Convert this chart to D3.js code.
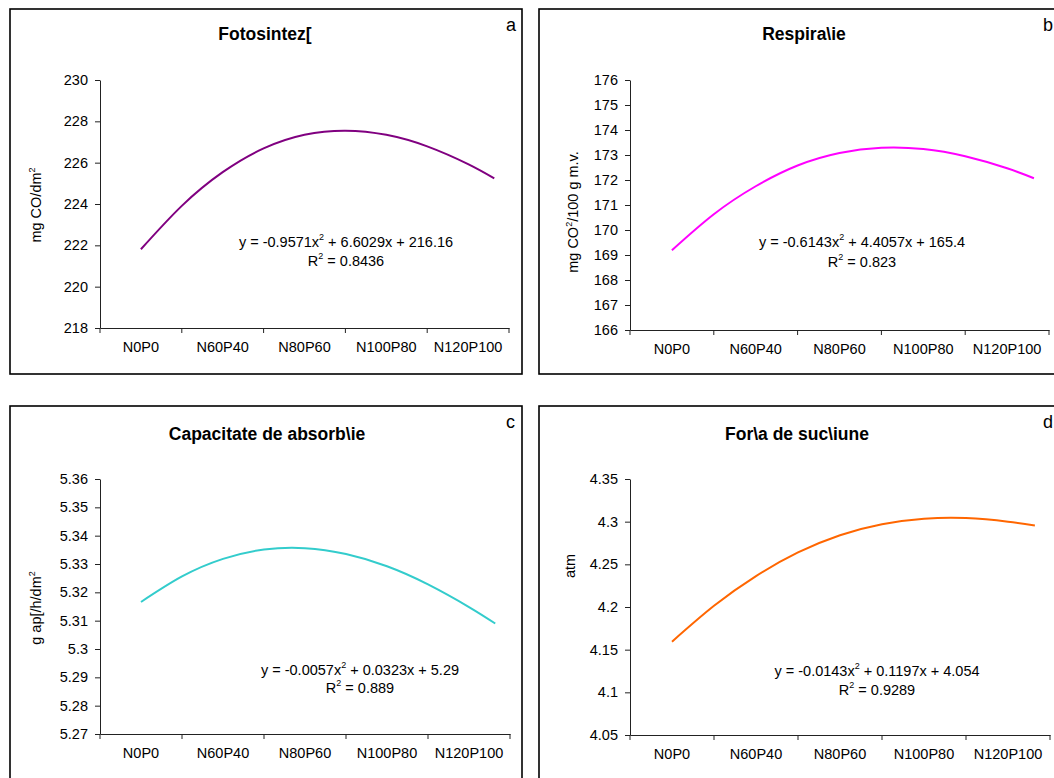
<!DOCTYPE html>
<html><head><meta charset="utf-8">
<script src="https://cdn.jsdelivr.net/npm/d3@7"></script>
<style>
body{margin:0;background:#fff}
svg{display:block}
text{font-family:"Liberation Sans",Arial,sans-serif;fill:#000}
</style>
</head><body>
<svg id="chart" width="1054" height="778"></svg>
<script>
// ---------- data ----------
const categories = ["N0P0", "N60P40", "N80P60", "N100P80", "N120P100"];
// positions of the sampled trend-curve points, in category units (1 = first category centre)
const curvePos = [1, 1.5, 2, 2.5, 3, 3.5, 4, 4.5, 5, 5.32];
const fotosinteza   = [221.81, 223.91, 225.54, 226.69, 227.35, 227.55, 227.35, 226.79, 225.93, 225.24];
const respiratie    = [169.19, 170.63, 171.75, 172.58, 173.08, 173.29, 173.24, 172.95, 172.47, 172.07];
const capacitate    = [5.3166, 5.3256, 5.3318, 5.3351, 5.3356, 5.3335, 5.3292, 5.3228, 5.3148, 5.3090];
const fortaSuctiune = [4.1594, 4.2014, 4.2362, 4.2639, 4.2841, 4.2970, 4.3034, 4.3042, 4.3000, 4.2955];

const ticksA = [218, 220, 222, 224, 226, 228, 230];
const tickLabelsA = ["218", "220", "222", "224", "226", "228", "230"];
const ticksB = [166, 167, 168, 169, 170, 171, 172, 173, 174, 175, 176];
const tickLabelsB = ["166", "167", "168", "169", "170", "171", "172", "173", "174", "175", "176"];
const ticksC = [5.27, 5.28, 5.29, 5.30, 5.31, 5.32, 5.33, 5.34, 5.35, 5.36];
const tickLabelsC = ["5.27", "5.28", "5.29", "5.3", "5.31", "5.32", "5.33", "5.34", "5.35", "5.36"];
const ticksD = [4.05, 4.10, 4.15, 4.20, 4.25, 4.30, 4.35];
const tickLabelsD = ["4.05", "4.1", "4.15", "4.2", "4.25", "4.3", "4.35"];

const titles = ["Fotosintez[", "Respira\\ie", "Capacitate de absorb\\ie", "For\\a de suc\\iune"];
const letters = ["a", "b", "c", "d"];
// y-axis labels: [before superscript, superscript, after]
const yLabels = [["mg CO/dm", "2", ""], ["mg CO", "2", "/100 g m.v."], ["g ap[/h/dm", "2", ""], ["atm", "", ""]];
const equations = [
  ["y = -0.9571x", "2", " + 6.6029x + 216.16"],
  ["y = -0.6143x", "2", " + 4.4057x + 165.4"],
  ["y = -0.0057x", "2", " + 0.0323x + 5.29"],
  ["y = -0.0143x", "2", " + 0.1197x + 4.054"]
];
const r2Values = ["0.8436", "0.823", "0.889", "0.9289"];

// ---------- layout ----------
const series = [fotosinteza, respiratie, capacitate, fortaSuctiune];
const ticks = [ticksA, ticksB, ticksC, ticksD];
const tickLabels = [tickLabelsA, tickLabelsB, tickLabelsC, tickLabelsD];
const colors = ["#800080", "#FF00FF", "#33CCCC", "#FF6600"];
const layout = [
  {box:[10, 9, 512, 365], px:[100, 509], py:[80, 328], title:[265, 40], letter:[506, 31], ylab:[36, 205], eq:[346, 247, 266]},
  {box:[539, 9, 540, 365], px:[630, 1049], py:[80, 330], title:[804, 40], letter:[1043, 31], ylab:[573, 212], eq:[862, 247, 267]},
  {box:[10, 406, 512, 400], px:[100, 510], py:[479, 734], title:[267, 440], letter:[506, 428], ylab:[36, 608], eq:[360, 675, 693]},
  {box:[539, 406, 540, 400], px:[630, 1050], py:[479, 735], title:[797, 440], letter:[1043, 428], ylab:[570, 566], eq:[877, 676, 695]}
];

const svg = d3.select("#chart");
const FS = 14.5;

function supText(sel, parts, fs) {
  sel.append("tspan").text(parts[0]);
  if (parts[1]) {
    sel.append("tspan").attr("dy", -fs * 0.45).attr("font-size", fs * 0.62).text(parts[1]);
    if (parts[2]) sel.append("tspan").attr("dy", fs * 0.45).text(parts[2]);
  } else if (parts[2]) sel.append("tspan").text(parts[2]);
}

layout.forEach((L, i) => {
  const g = svg.append("g");
  g.append("rect").attr("x", L.box[0]).attr("y", L.box[1]).attr("width", L.box[2]).attr("height", L.box[3])
    .attr("fill", "#fff").attr("stroke", "#000").attr("stroke-width", 1.6);

  const x = d3.scaleBand().domain(categories).range(L.px).padding(0);
  const xLin = d3.scaleLinear().domain([0.5, categories.length + 0.5]).range(L.px);
  const y = d3.scaleLinear().domain([ticks[i][0], ticks[i][ticks[i].length - 1]]).range([L.py[1], L.py[0]]);

  // y axis
  const ya = g.append("g").attr("transform", `translate(${L.px[0]},0)`)
    .call(d3.axisLeft(y).tickValues(ticks[i]).tickFormat((d, k) => tickLabels[i][k]).tickSize(5).tickSizeOuter(0).tickPadding(7));
  ya.select(".domain").attr("stroke", "#222");
  ya.selectAll(".tick line").attr("stroke", "#222");
  ya.selectAll(".tick text").attr("font-size", FS).attr("font-family", "Liberation Sans, Arial, sans-serif").attr("fill", "#000");

  // x axis: labels at category centres, ticks at boundaries
  const xa = g.append("g").attr("transform", `translate(0,${L.py[1]})`)
    .call(d3.axisBottom(x).tickSize(0).tickSizeOuter(0).tickPadding(14));
  xa.select(".domain").attr("stroke", "#222");
  xa.selectAll(".tick text").attr("font-size", FS).attr("font-family", "Liberation Sans, Arial, sans-serif").attr("fill", "#000");
  const bounds = categories.map(c => x(c)).concat([x(categories[categories.length - 1]) + x.bandwidth()]);
  g.append("g").selectAll("line").data(bounds).join("line")
    .attr("x1", d => d).attr("x2", d => d).attr("y1", L.py[1]).attr("y2", L.py[1] + 5)
    .attr("stroke", "#222");

  // curve
  const pts = curvePos.map((p, k) => [p, series[i][k]]);
  g.append("path").datum(pts)
    .attr("fill", "none").attr("stroke", colors[i]).attr("stroke-width", 2)
    .attr("d", d3.line().x(d => xLin(d[0])).y(d => y(d[1])).curve(d3.curveNatural));

  // title & letter
  g.append("text").attr("x", L.title[0]).attr("y", L.title[1]).attr("text-anchor", "middle")
    .attr("font-weight", "bold").attr("font-size", 17.5).text(titles[i]);
  g.append("text").attr("x", L.letter[0]).attr("y", L.letter[1]).attr("text-anchor", "start")
    .attr("font-size", 18).text(letters[i]);

  // y label
  const yl = g.append("text").attr("transform", `translate(${L.ylab[0]},${L.ylab[1]}) rotate(-90)`)
    .attr("text-anchor", "middle").attr("dy", "0.35em").attr("font-size", FS);
  supText(yl, yLabels[i], FS);

  // equation
  const e1 = g.append("text").attr("x", L.eq[0]).attr("y", L.eq[1]).attr("text-anchor", "middle").attr("font-size", FS);
  supText(e1, equations[i], FS);
  const e2 = g.append("text").attr("x", L.eq[0]).attr("y", L.eq[2]).attr("text-anchor", "middle").attr("font-size", FS);
  supText(e2, ["R", "2", " = " + r2Values[i]], FS);
});
</script>
</body></html>
